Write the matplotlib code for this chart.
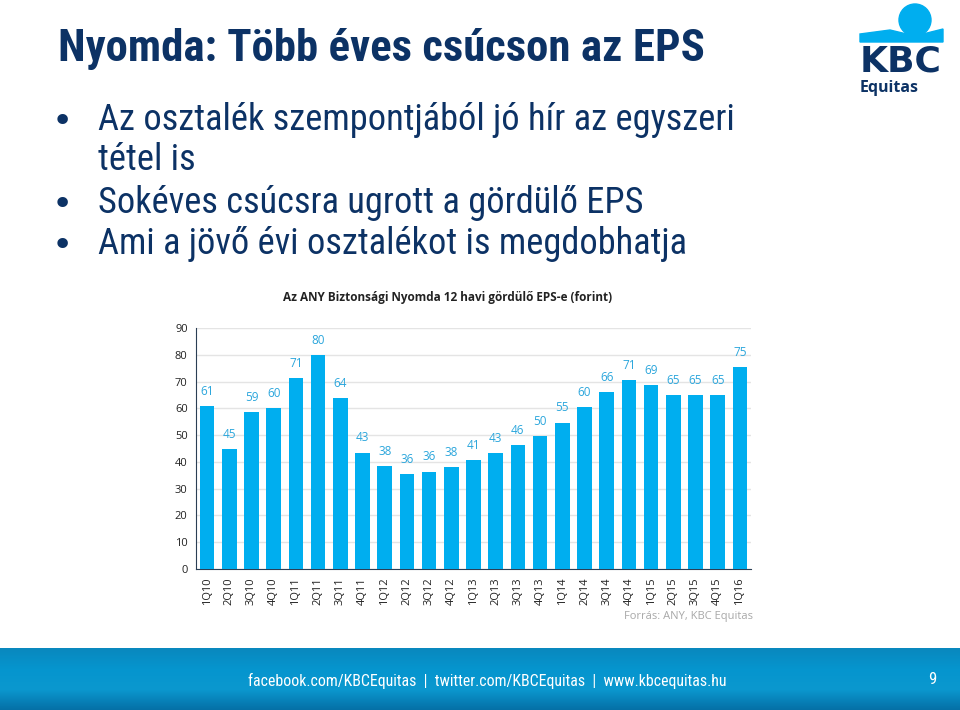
import numpy as np
import matplotlib
matplotlib.use("Agg")
import matplotlib.pyplot as plt
from matplotlib.patches import Circle, Polygon
from matplotlib.colors import LinearSegmentedColormap
from matplotlib import font_manager

# data
quarters = ["1Q10", "2Q10", "3Q10", "4Q10", "1Q11", "2Q11", "3Q11", "4Q11",
            "1Q12", "2Q12", "3Q12", "4Q12", "1Q13", "2Q13", "3Q13", "4Q13",
            "1Q14", "2Q14", "3Q14", "4Q14", "1Q15", "2Q15", "3Q15", "4Q15", "1Q16"]
eps = [60.8, 44.8, 58.7, 60.0, 71.2, 80.0, 63.8, 43.5, 38.4, 35.6, 36.4, 38.0,
       40.8, 43.4, 46.3, 49.8, 54.7, 60.4, 66.1, 70.6, 68.8, 64.8, 65.1, 65.0, 75.4]
eps_labels = [61, 45, 59, 60, 71, 80, 64, 43, 38, 36, 36, 38, 41, 43, 46, 50,
              55, 60, 66, 71, 69, 65, 65, 65, 75]
yticks = [0, 10, 20, 30, 40, 50, 60, 70, 80, 90]

navy = "#0C3265"
bar_col = "#00AEEF"
lab_col = "#2BA6DC"
chart_font = ["Open Sans", "DejaVu Sans"]

# pick a narrow face if there is one
fonts = font_manager.fontManager.ttflist
narrow_kw = {"family": ["DejaVu Sans"]}
for f in fonts:
    if f.name in ("Liberation Sans Narrow", "Roboto Condensed"):
        narrow_kw = {"family": [f.name, "DejaVu Sans"]}
        break
else:
    if any(f.name == "DejaVu Sans" and f.stretch == "condensed" for f in fonts):
        narrow_kw = {"family": ["DejaVu Sans"], "fontstretch": "condensed"}

fig = plt.figure(figsize=(9.6, 7.1), dpi=100)
renderer = fig.canvas.get_renderer()


def fit_width(t, px):
    # scale the font so the text spans about px pixels
    w = t.get_window_extent(renderer).width
    t.set_fontsize(t.get_fontsize() * px / w)


# slide texts
t = fig.text(58 / 960, 1 - 49 / 710, "Nyomda: Több éves csúcson az EPS", fontweight="bold",
             fontsize=27, color=navy, va="center", ha="left", **narrow_kw)
fit_width(t, 648)
bullets = [(120, "Az osztalék szempontjából jó hír az egyszeri", True),
           (160, "tétel is", False),
           (203, "Sokéves csúcsra ugrott a gördülő EPS", True),
           (244, "Ami a jövő évi osztalékot is megdobhatja", True)]
for y, txt, dot in bullets:
    if dot:
        fig.text(62 / 960, 1 - (y + 2) / 710, "•", fontsize=26, color=navy,
                 va="center", ha="center")
    t = fig.text(98 / 960, 1 - y / 710, txt, fontsize=24.5, color=navy,
                 va="center", ha="left", **narrow_kw)
    if y == 120:
        fit_width(t, 635)
        bullet_size = t.get_fontsize()
    else:
        t.set_fontsize(bullet_size)

# chart
ax = fig.add_axes([196 / 960, 1 - 569 / 710, 555 / 960, 241 / 710])
x = np.arange(len(quarters))
ax.bar(x, eps, width=0.66, color=bar_col, zorder=3)
for xi, v, lab in zip(x, eps, eps_labels):
    ax.text(xi, v + 3, str(lab), ha="center", va="bottom", fontsize=8.5,
            color=lab_col, family=chart_font)
ax.set_xlim(-0.5, len(quarters) - 0.5)
ax.set_ylim(0, 90)
ax.set_yticks(yticks)
ax.set_yticklabels([str(t) for t in yticks], family=chart_font, fontsize=8, color="#222222")
ax.set_xticks(x)
ax.set_xticklabels(quarters, rotation=90, family=chart_font, fontsize=8, color="#222222")
ax.tick_params(length=0, pad=6)
ax.grid(axis="y", color="#E4E4E4", linewidth=1, zorder=0)
for s in ["top", "right"]:
    ax.spines[s].set_visible(False)
ax.spines["left"].set_color("#2B3F55")
ax.spines["bottom"].set_color("#2B3F55")
fig.text(448 / 960, 1 - 298 / 710, "Az ANY Biztonsági Nyomda 12 havi gördülő EPS-e (forint)",
         family=chart_font, fontsize=8.5, fontweight="bold", color="#222222",
         ha="center", va="center")
fig.text(753 / 960, 1 - 616 / 710, "Forrás: ANY, KBC Equitas", family=chart_font,
         fontsize=8, color="#A8A8A8", ha="right", va="center")

# footer bar
fax = fig.add_axes([0, 0, 1, 62 / 710])
grad = np.linspace(0, 1, 100)[:, None]
cmap = LinearSegmentedColormap.from_list("foot", ["#0A88BE", "#0595CE", "#0B98CF", "#0570A6"])
fax.imshow(grad, aspect="auto", cmap=cmap, extent=[0, 1, 0, 1])
fax.set_xlim(0, 1)
fax.set_ylim(0, 1)
fax.axis("off")
t = fax.text(487 / 960, 0.47, "facebook.com/KBCEquitas  |  twitter.com/KBCEquitas  |  www.kbcequitas.hu",
             fontsize=11.5, color="white", ha="center", va="center", **narrow_kw)
fit_width(t, 479)
fax.text(932 / 960, 0.5, "9", fontsize=12, color="white", ha="center", va="center", **narrow_kw)

# logo
lax = fig.add_axes([0, 0, 1, 1], zorder=-1)
lax.set_xlim(0, 960)
lax.set_ylim(710, 0)
lax.axis("off")
lax.add_patch(Circle((915, 20), 16, color=bar_col))
lax.add_patch(Polygon([[860, 42], [860, 34], [890, 30], [915, 36], [943, 29], [943, 42]],
                      closed=True, color=bar_col))
t = lax.text(901, 62, "KBC", family=["DejaVu Sans"], fontweight="heavy", fontsize=20,
             color=navy, ha="center", va="center")
fit_width(t, 82)
lax.text(860, 88, "Equitas", family=chart_font, fontweight="bold", fontsize=11.5,
         color=navy, ha="left", va="center")

fig.savefig("out.png", dpi=100)
